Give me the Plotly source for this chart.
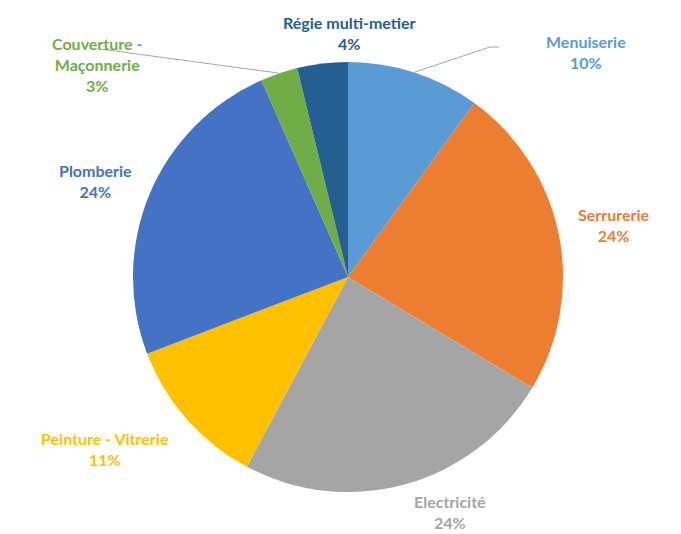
import plotly.graph_objects as go

labels = ["Menuiserie", "Serrurerie", "Electricité", "Peinture - Vitrerie",
          "Plomberie", "Couverture - Maçonnerie", "Régie multi-metier"]
values = [10.0, 23.6, 24.2, 11.4, 24.2, 2.8, 3.8]
colors = ["#5B9BD5", "#ED7D31", "#A5A5A5", "#FFC000", "#4472C4", "#70AD47", "#255E91"]
label_lines = ["Menuiserie", "Serrurerie", "Electricité", "Peinture - Vitrerie",
               "Plomberie", "Couverture -<br>Maçonnerie", "Régie multi-metier"]

W, H = 681, 534
cx, cy, r = 348, 277, 215

def px(x):
    return x / W

def py(y):
    return 1 - y / H

fig = go.Figure(go.Pie(
    labels=labels, values=values, sort=False, direction="clockwise", rotation=0,
    marker=dict(colors=colors, line=dict(width=0)), textinfo="none",
    hoverinfo="label+percent", showlegend=False,
    domain=dict(x=[px(cx - r), px(cx + r)], y=[py(cy + r), py(cy - r)]),
))

total = sum(values)
label_pos = [(586, 52), (614, 225), (450, 512), (105, 449), (95, 181), (97, 65), (349, 33)]
annotations = []
for txt, v, c, (x, y) in zip(label_lines, values, colors, label_pos):
    annotations.append(dict(
        x=px(x), y=py(y), xref="paper", yref="paper", showarrow=False,
        text=f"<b>{txt}<br>{round(100 * v / total)}%</b>",
        font=dict(family="Lato", size=16, color=c), align="center",
        xanchor="center", yanchor="middle",
    ))

line_col = "#A6A6A6"
shapes = [
    dict(type="path", xref="paper", yref="paper",
         path=f"M {px(415)} {py(72)} L {px(490)} {py(47)} L {px(499)} {py(47)}",
         line=dict(color=line_col, width=1)),
    dict(type="line", xref="paper", yref="paper",
         x0=px(100), y0=py(49), x1=px(278), y1=py(73),
         line=dict(color=line_col, width=1)),
]

fig.update_layout(
    width=W, height=H, margin=dict(l=0, r=0, t=0, b=0),
    paper_bgcolor="white", plot_bgcolor="white",
    annotations=annotations, shapes=shapes,
)
fig.write_html("out.html")
